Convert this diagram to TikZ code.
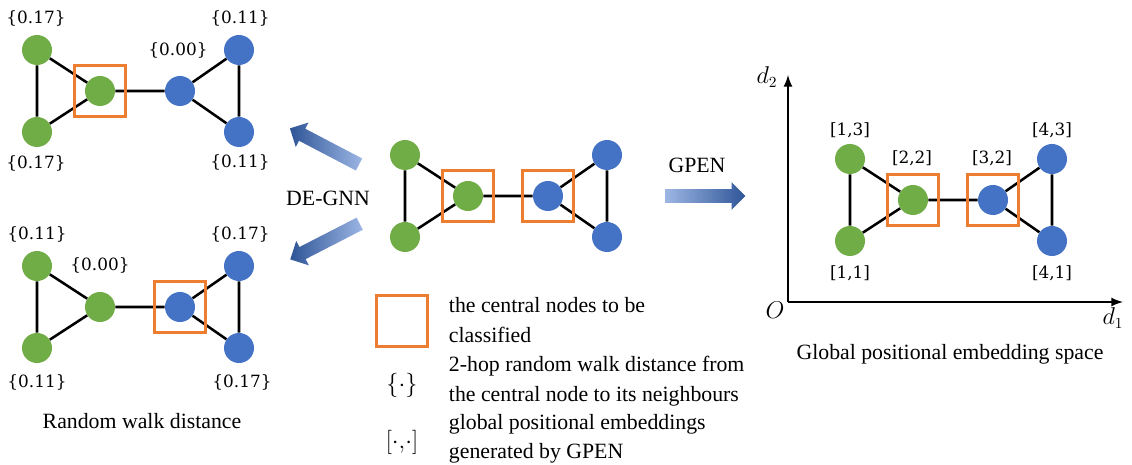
\documentclass[tikz,border=0pt]{standalone}
\usepackage{fontspec}
\usetikzlibrary{shapes.arrows}
\newfontfamily\timesfont{Liberation Serif}
\newfontfamily\lblfont{DejaVu Serif}
\definecolor{ggreen}{HTML}{70AD47}
\definecolor{bblue}{HTML}{4472C4}
\definecolor{borange}{HTML}{ED7D31}
\definecolor{alight}{HTML}{9CB6E4}
\definecolor{adark}{HTML}{2F5597}
% one small graph, green centre node at #2
\newcommand{\twotri}[2]{%
  \begin{scope}[shift={(#2)}]
   \node[gnode] (#1a) at (-63,-41) {};
   \node[gnode] (#1b) at (-63,41) {};
   \node[gnode] (#1c) at (0,0) {};
   \node[bnode] (#1d) at (80,0) {};
   \node[bnode] (#1e) at (139,-41) {};
   \node[bnode] (#1f) at (139,41) {};
  \end{scope}
  \draw[edge] (#1a) -- (#1b) (#1a) -- (#1c) (#1b) -- (#1c) (#1c) -- (#1d)
              (#1d) -- (#1e) (#1d) -- (#1f) (#1e) -- (#1f);}

\begin{document}
\begin{tikzpicture}[x=0.025cm,y=-0.025cm,
   gnode/.style={circle,fill=ggreen,minimum size=0.75cm,inner sep=0pt},
   bnode/.style={circle,fill=bblue,minimum size=0.75cm,inner sep=0pt},
   cbox/.style={draw=borange,line width=1.6pt,minimum size=1.27cm,inner sep=0pt},
   edge/.style={line width=1.8pt},
   lbl/.style={font=\lblfont\fontsize{12}{14}\selectfont},
   mlbl/.style={font=\fontsize{16}{18}\selectfont},
   captxt/.style={font=\timesfont\fontsize{15.5}{21}\selectfont},
   fatarrow/.style={single arrow,inner xsep=0pt,inner ysep=0.1625cm,
      single arrow head extend=0.175cm,minimum height=1.95cm,draw=none}]
   \useasboundingbox (0,0) rectangle (1132,465);

   % random walk distance, two views
   \twotri{p}{100,91}
   \node[cbox] (pbox) at (pc) {};
   \node[lbl] (p1) at (36,18) {\{0.17\}};
   \node[lbl] (p2) at (36,163) {\{0.17\}};
   \node[lbl] (p3) at (178,50) {\{0.00\}};
   \node[lbl] (p4) at (240,18) {\{0.11\}};
   \node[lbl] (p5) at (240,162) {\{0.11\}};

   \twotri{q}{100,307}
   \node[cbox] (qbox) at (qd) {};
   \node[lbl] (q1) at (37,234) {\{0.11\}};
   \node[lbl] (q2) at (37,382) {\{0.11\}};
   \node[lbl] (q3) at (100,265) {\{0.00\}};
   \node[lbl] (q4) at (240,234) {\{0.17\}};
   \node[lbl] (q5) at (242,382) {\{0.17\}};
   \node[captxt] (qcap) at (142,421) {Random walk distance};

   % input graph
   \twotri{r}{468,196}
   \node[cbox] (rbox1) at (rc) {};
   \node[cbox] (rbox2) at (rd) {};
   \node[fatarrow,rotate=152.4,left color=adark,right color=alight] (up) at (327.5,148) {};
   \node[fatarrow,rotate=207.2,left color=adark,right color=alight] (down) at (328,240) {};
   \node[captxt] (degnn) at (328,198) {DE-GNN};
   \node[fatarrow,minimum height=2cm,left color=alight,right color=adark] (right) at (702,196) {};
   \node[captxt] (gpen) at (697,165) {GPEN};

   % legend
   \node[cbox] (key1) at (402,321) {};
   \node[captxt,anchor=west,align=left] (txt1) at (444,320) {the central nodes to be\\classified};
   \node[font=\fontsize{18}{20}\selectfont] (key2) at (402,385) {$\{\cdot\}$};
   \node[captxt,anchor=west,align=left] (txt2) at (444,381) {2-hop random walk distance from\\the central node to its neighbours};
   \node[font=\fontsize{18}{20}\selectfont] (key3) at (402,442) {$[\cdot{,}\cdot]$};
   \node[captxt,anchor=west,align=left] (txt3) at (444,439) {global positional embeddings\\generated by GPEN};

   % embedding space
   \coordinate (o) at (788,302);
   \coordinate (xend) at (1123,302);
   \coordinate (yend) at (788,75);
   \draw[line width=1.8pt,-latex] (o) -- (xend);
   \draw[line width=1.8pt,-latex] (o) -- (yend);
   \node[mlbl] (d2) at (767,77) {$d_2$};
   \node[mlbl] (d1) at (1113,318) {$d_1$};
   \node[mlbl] (orig) at (775,310) {$O$};
   \twotri{s}{913,200}
   \node[cbox] (sbox1) at (sc) {};
   \node[cbox] (sbox2) at (sd) {};
   \node[lbl] (s1) at (850,130) {[1,3]};
   \node[lbl] (s2) at (912,158) {[2,2]};
   \node[lbl] (s3) at (992,158) {[3,2]};
   \node[lbl] (s4) at (1052,130) {[4,3]};
   \node[lbl] (s5) at (850,273) {[1,1]};
   \node[lbl] (s6) at (1052,273) {[4,1]};
   \node[captxt] (scap) at (950,354) {Global positional embedding space};
\end{tikzpicture}
\end{document}
